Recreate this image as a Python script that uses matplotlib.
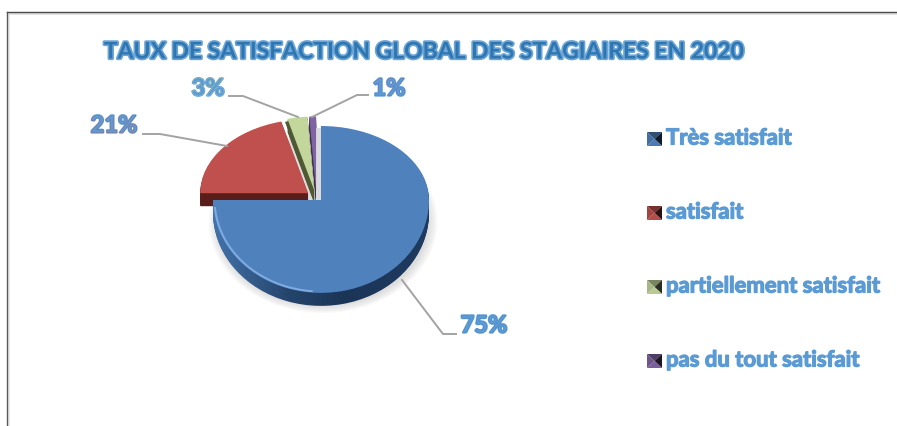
import numpy as np
import matplotlib
matplotlib.use("Agg")
import matplotlib.pyplot as plt
import matplotlib.patheffects as pe
import matplotlib.transforms as mtrans

title = "TAUX DE SATISFACTION GLOBAL DES STAGIAIRES EN 2020"
categories = ["Très satisfait", "satisfait", "partiellement satisfait", "pas du tout satisfait"]
values = [75, 21, 3, 1]
pct_labels = ["75%", "21%", "3%", "1%"]
top_colors = ["#4f81bd", "#c0504d", "#c3d69b", "#8064a2"]
side_colors = ["#1f3c60", "#5a1d1a", "#4f5a34", "#3f2f58"]
explode = [0, 0.15, 0.13, 0.13]
nudge = [0, 0, -4.5, -4.5]

plt.rcParams["font.family"] = ["Lato", "DejaVu Sans"]
W, H = 897, 426
RADIUS = 108.0
CX, CY = 321.0, 200.0
DEPTH = 13

fig = plt.figure(figsize=(W / 100, H / 100), dpi=100)
fig.patch.set_facecolor("white")
pie_ax = fig.add_axes([0, 0, 1, 1], zorder=1)
top = fig.add_axes([0, 0, 1, 1], zorder=2)
top.patch.set_alpha(0)
top.set_xlim(0, W)
top.set_ylim(H, 0)
top.axis("off")


class Tilt(mtrans.Transform):
    # squashes the pie, the part in front is taller than the part behind
    input_dims = 2
    output_dims = 2
    has_inverse = False

    def __init__(self, dx=0.0, dy=0.0):
        super().__init__()
        self.dx = dx
        self.dy = dy

    def transform_non_affine(self, xy):
        out = np.array(xy, dtype=float)
        out[:, 1] = np.where(out[:, 1] > 0, out[:, 1] * 0.685, out[:, 1] * 0.86)
        out[:, 0] += self.dx
        out[:, 1] += self.dy
        return out


def draw_pie(colors, zorder, dx=0.0, dy=0.0):
    wedges, _ = pie_ax.pie(values, colors=colors, startangle=90, counterclock=False,
                           explode=explode, wedgeprops={"linewidth": 0, "zorder": zorder})
    for w, n in zip(wedges, nudge):
        w.set_transform(Tilt(dx + n / RADIUS, dy) + pie_ax.transData)
    return wedges


# soft shadow under the disc
for i in range(8):
    s = 1.06 - i * 0.012
    th = np.linspace(0, 2 * np.pi, 200)
    top_x = CX + 2 + RADIUS * s * np.cos(th)
    top_y = CY + 22 + 86 * s * np.sin(th)
    pie_ax.fill((top_x - CX) / RADIUS, (CY - top_y) / RADIUS, color="#808080", alpha=0.035,
                lw=0, zorder=0.5)

# side wall: stacked copies of the pie, the big slice gets a gradient
gradient = np.interp(np.linspace(0, 1, 256), [0, 0.35, 0.6, 1], [0, 0.75, 1, 0.9])[None, :, None]
c_left = np.array(matplotlib.colors.to_rgb("#4474ac"))
c_right = np.array(matplotlib.colors.to_rgb("#1b3557"))
grad_img = c_left + (c_right - c_left) * gradient
for d in range(DEPTH, 0, -1):
    z = 2 + (DEPTH - d) * 0.1
    wedges = draw_pie(side_colors, z, dy=-d / RADIUS)
    wedges[0].set_visible(False)
    pie_ax.add_patch(wedges[0])
    im = pie_ax.imshow(grad_img, extent=(-1.02, 1.02, -1.3, 1), aspect="auto", zorder=z)
    im.set_clip_path(wedges[0])

# grey inner wall behind the gap, then the dark edge of the green slice
pie_ax.fill_between([(316 - CX) / RADIUS, 0], 0, (CY - 128) / RADIUS, color="#d9d9de", lw=0, zorder=4)

wedges_top = draw_pie(top_colors, 5)
wedges_top[0].set_zorder(7)
for w in wedges_top[2:]:
    w.set_zorder(6.5)
band = draw_pie(side_colors, 6, dx=-2.5 / RADIUS, dy=-3 / RADIUS)
for i, w in enumerate(band):
    if i != 2:
        w.set_visible(False)

# light bevel on the lower left rim of the big slice
th = np.radians(np.linspace(185, 265, 60))
rim = pie_ax.plot(0.985 * np.cos(th), 0.985 * np.sin(th), color="#7fabe0", lw=1.4, zorder=8)[0]
rim.set_transform(Tilt() + pie_ax.transData)

pie_ax.set_aspect("equal")
pie_ax.set_xlim(-CX / RADIUS, (W - CX) / RADIUS)
pie_ax.set_ylim((CY - H) / RADIUS, CY / RADIUS)
pie_ax.axis("off")

# chart frame
top.plot([7, 7], [426, 12], color="#5a5a5a", lw=1.0, zorder=3)
top.plot([7, 897], [12, 12], color="#4a4a4a", lw=1.0, zorder=3)
top.plot([9, 897], [14, 14], color="#e2e2e2", lw=1.4, zorder=2)
top.plot([9, 9], [426, 14], color="#e8e8e8", lw=1.2, zorder=2)

top.text(424, 52, title, ha="center", va="center", fontsize=16.5, fontweight="bold",
         color="#2f75ae", path_effects=[pe.withStroke(linewidth=2.4, foreground="#6aa5da")])

# leader lines and data labels
leaders = [
    ([402, 443, 456], [280, 334, 334]),
    ([143, 160, 227], [134, 134, 146]),
    ([229, 243, 298], [96, 96, 117]),
    ([312, 357, 368], [117, 95, 95]),
]
label_xy = [(484, 325), (114, 125), (208, 88), (389, 88)]
for i in range(len(values)):
    xs, ys = leaders[i]
    top.plot(xs, ys, color="#a3a3a3", lw=1.4, zorder=4)
    top.text(label_xy[i][0], label_xy[i][1], pct_labels[i], ha="center", va="center",
             fontsize=17, fontweight="bold", color="#5b9bd5", zorder=5,
             path_effects=[pe.withStroke(linewidth=1.6, foreground="#5b9bd5"),
                           pe.withStroke(linewidth=0.4, foreground=top_colors[i])])

# legend with the little bevelled squares
legend_y = [139, 213, 287, 361]
for i, name in enumerate(categories):
    x0, x1 = 647, 662
    y = legend_y[i]
    y0, y1 = y - 7, y + 7
    xm, ym = (x0 + x1) / 2, (y0 + y1) / 2
    base = np.array(matplotlib.colors.to_rgb(top_colors[i]))
    top.fill([x0, x1, xm], [y0, y0, ym], color=base * 0.62, lw=0)
    top.fill([x0, xm, x0], [y0, ym, y1], color=base * 0.85, lw=0)
    top.fill([x1, xm, x1], [y0, ym, y1], color=base * 0.22, lw=0)
    top.fill([x0, x1, xm], [y1, y1, ym], color=base * 0.95, lw=0)
    top.text(666, y - 1, name, ha="left", va="center", fontsize=15.9, fontweight="bold",
             color="#5b9bd5", path_effects=[pe.withStroke(linewidth=0.9, foreground="#5b9bd5")])

fig.savefig("out.png", dpi=100)
